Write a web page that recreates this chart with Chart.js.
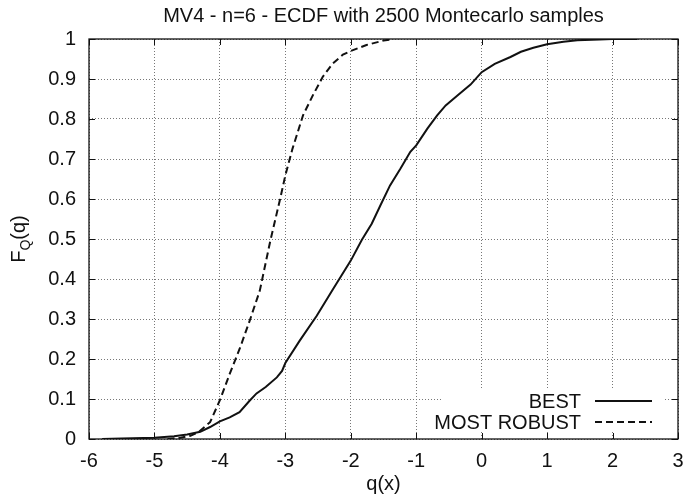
<!DOCTYPE html>
<html>
<head>
  <title>MV4 - n=6 - ECDF</title>
  <script src="https://cdn.jsdelivr.net/npm/chart.js"></script>
  <style>
    body { margin: 0; background: white; }
    canvas { display: block; }
  </style>
</head>
<body>
  <canvas id="ecdfChart" width="684" height="499"></canvas>

  <script>
    // values
    const bestQ = [-5.8, -5.5, -5.0, -4.7, -4.5, -4.3, -4.15, -4.0, -3.85, -3.7, -3.55, -3.44, -3.3, -3.13, -3.05,
                   -3.0, -2.78, -2.52, -2.27, -2.0, -1.83, -1.68, -1.55, -1.4, -1.24, -1.09, -1.0, -0.83, -0.68, -0.55,
                   -0.37, -0.17, 0.0, 0.2, 0.44, 0.6, 0.79, 1.0, 1.25, 1.46, 1.8, 2.0, 2.38];
    const bestF = [0, 0.001, 0.003, 0.007, 0.011, 0.018, 0.03, 0.044, 0.054, 0.067, 0.095, 0.114, 0.13, 0.154, 0.17,
                   0.19, 0.246, 0.308, 0.375, 0.446, 0.498, 0.538, 0.583, 0.634, 0.676, 0.718, 0.734, 0.776, 0.809, 0.834,
                   0.859, 0.886, 0.917, 0.938, 0.955, 0.968, 0.978, 0.987, 0.993, 0.997, 0.999, 1.0, 1.0];
    const robustQ = [-4.8, -4.6, -4.45, -4.32, -4.23, -4.15, -4.0, -3.85, -3.69, -3.54, -3.39, -3.23, -3.08, -3.0,
                     -2.89, -2.73, -2.58, -2.43, -2.28, -2.12, -2.0, -1.76, -1.5, -1.35];
    const robustF = [0, 0.003, 0.008, 0.018, 0.031, 0.042, 0.097, 0.163, 0.229, 0.298, 0.371, 0.495, 0.6, 0.659,
                     0.726, 0.809, 0.859, 0.905, 0.938, 0.961, 0.97, 0.985, 0.996, 1.0];

    const seriesNames = ['BEST', 'MOST ROBUST'];
    const titleText = 'MV4 - n=6 - ECDF with 2500 Montecarlo samples';
    const xTitle = 'q(x)';
    const xMin = -6, xMax = 3, xStep = 1;
    const yMin = 0, yMax = 1, yStep = 0.1;

    const FONT = "'Liberation Sans', Arial, Helvetica, sans-serif";
    const INK = '#111';
    const DASH = [7, 4];

    Chart.defaults.font.family = FONT;
    Chart.defaults.font.size = 20;
    Chart.defaults.color = INK;

    const toPoints = (xs, ys) => xs.map((x, i) => ({ x: x, y: ys[i] }));
    // gnuplot prints 0, 0.1, ... 1 (no trailing zeros)
    const plainNumber = v => String(Number(v.toFixed(2)));

    // frame, inward ticks, titles and the gnuplot-style key
    const gnuplotLook = {
      id: 'gnuplotLook',
      beforeDatasetsDraw(chart) {
        const { ctx, chartArea: a } = chart;
        ctx.save();
        ctx.fillStyle = 'white';
        ctx.fillRect(a.right - 236, a.bottom - 49, 223, 42);
        ctx.restore();
      },
      afterDraw(chart) {
        const { ctx, chartArea: a, scales } = chart;
        ctx.save();

        // ticks pointing inside on all four sides
        ctx.strokeStyle = INK;
        ctx.lineWidth = 1;
        ctx.beginPath();
        scales.x.ticks.forEach(t => {
          const px = Math.round(scales.x.getPixelForValue(t.value)) + 0.5;
          ctx.moveTo(px, a.bottom); ctx.lineTo(px, a.bottom - 6);
          ctx.moveTo(px, a.top); ctx.lineTo(px, a.top + 6);
        });
        scales.y.ticks.forEach(t => {
          const py = Math.round(scales.y.getPixelForValue(t.value)) + 0.5;
          ctx.moveTo(a.left, py); ctx.lineTo(a.left + 6, py);
          ctx.moveTo(a.right, py); ctx.lineTo(a.right - 6, py);
        });
        ctx.stroke();

        ctx.lineWidth = 1.3;
        ctx.strokeRect(a.left, a.top, a.right - a.left, a.bottom - a.top);

        // title and x axis title
        ctx.fillStyle = INK;
        ctx.font = '20px ' + FONT;
        ctx.textAlign = 'center';
        ctx.textBaseline = 'alphabetic';
        ctx.fillText(titleText, (a.left + a.right) / 2, 22);
        ctx.fillText(xTitle, (a.left + a.right) / 2, 490);

        // y axis title F_Q(q)
        ctx.save();
        ctx.translate(25, (a.top + a.bottom) / 2);
        ctx.rotate(-Math.PI / 2);
        ctx.textAlign = 'left';
        const wF = ctx.measureText('F').width;
        const wP = ctx.measureText('(q)').width;
        ctx.font = '14px ' + FONT;
        const wQ = ctx.measureText('Q').width;
        let x0 = -(wF + wQ + wP) / 2;
        ctx.font = '20px ' + FONT;
        ctx.fillText('F', x0, 0);
        ctx.font = '14px ' + FONT;
        ctx.fillText('Q', x0 + wF, 5);
        ctx.font = '20px ' + FONT;
        ctx.fillText('(q)', x0 + wF + wQ, 0);
        ctx.restore();

        // key
        ctx.textAlign = 'right';
        ctx.textBaseline = 'middle';
        ctx.lineWidth = 2;
        chart.data.datasets.forEach((ds, i) => {
          const ry = a.bottom - 38 + i * 21;
          ctx.fillText(ds.label, a.right - 97, ry + 1);
          ctx.setLineDash(ds.borderDash || []);
          ctx.beginPath();
          ctx.moveTo(a.right - 83, ry);
          ctx.lineTo(a.right - 26, ry);
          ctx.stroke();
        });
        ctx.restore();
      }
    };

    const ctx = document.getElementById('ecdfChart').getContext('2d');
    const chart = new Chart(ctx, {
      type: 'line',
      data: {
        datasets: [
          {
            label: seriesNames[0],
            data: toPoints(bestQ, bestF),
            borderColor: INK,
            borderWidth: 2,
            pointRadius: 0,
            tension: 0
          },
          {
            label: seriesNames[1],
            data: toPoints(robustQ, robustF),
            borderColor: INK,
            borderWidth: 2,
            borderDash: DASH,
            pointRadius: 0,
            tension: 0
          }
        ]
      },
      options: {
        responsive: false,
        animation: false,
        devicePixelRatio: 1,
        layout: { padding: { top: 39, right: 6, left: 0, bottom: 0 } },
        plugins: {
          legend: { display: false },
          title: { display: false },
          tooltip: { enabled: false }
        },
        scales: {
          x: {
            type: 'linear',
            min: xMin,
            max: xMax,
            ticks: { stepSize: xStep, padding: 10, callback: plainNumber },
            grid: { color: '#777', lineWidth: 1, drawTicks: false },
            border: { display: false, dash: [1, 2] },
            afterFit(scale) {
              scale.height = 60;
              scale.paddingLeft = 0;
              scale.paddingRight = 0;
            }
          },
          y: {
            type: 'linear',
            min: yMin,
            max: yMax,
            ticks: { stepSize: yStep, padding: 13, callback: plainNumber },
            grid: { color: '#777', lineWidth: 1, drawTicks: false },
            border: { display: false, dash: [1, 2] },
            afterFit(scale) {
              scale.width = 89;
              scale.paddingTop = 0;
              scale.paddingBottom = 0;
            }
          }
        }
      },
      plugins: [gnuplotLook]
    });
  </script>
</body>
</html>
